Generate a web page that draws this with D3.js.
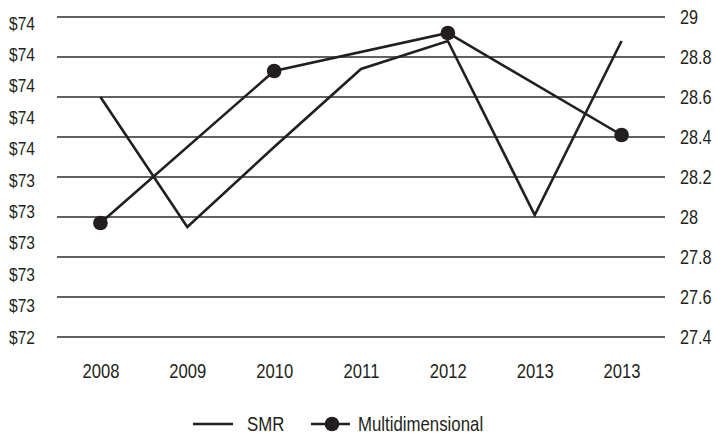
<!DOCTYPE html>
<html>
<head>
<meta charset="utf-8">
<script src="https://cdn.jsdelivr.net/npm/d3@7"></script>
<style>
  html, body { margin: 0; padding: 0; background: #fff; }
  svg text { font-family: "Liberation Sans", Arial, sans-serif; fill: #231f20; }
</style>
</head>
<body>
<svg id="chart" width="715" height="436"></svg>
<script>
// Categories along the bottom (the last year appears twice in the source labels)
const categories = ["2008", "2009", "2010", "2011", "2012", "2013", "2013 "];
const categoryLabels = ["2008", "2009", "2010", "2011", "2012", "2013", "2013"];

// Series values, plotted against the right-hand axis
const smrValues = [28.6, 27.95, 28.35, 28.74, 28.88, 28.01, 28.88];
const multiValues = [27.97, null, 28.73, null, 28.92, null, 28.41];

// Axis ticks
const rightTicks = [27.4, 27.6, 27.8, 28.0, 28.2, 28.4, 28.6, 28.8, 29.0];
const leftTicks = [72.4, 72.6, 72.8, 73.0, 73.2, 73.4, 73.6, 73.8, 74.0, 74.2, 74.4];

const ink = "#231f20";
const narrow = 0.82; // horizontal squeeze giving a condensed face
const svg = d3.select("#chart");

const plot = { left: 57, right: 665, top: 17, bottom: 337 };

const x = d3.scalePoint()
  .domain(categories)
  .range([plot.left, plot.right])
  .padding(0.5);

const yRight = d3.scaleLinear().domain([27.4, 29.0]).range([plot.bottom, plot.top]);
const yLeft = d3.scaleLinear().domain([72.4, 74.4]).range([plot.bottom, 23]);

// Squeeze axis tick labels horizontally while keeping their anchor points
function condense(sel, size) {
  sel.selectAll("text").each(function () {
    const t = d3.select(this);
    const tx = +t.attr("x") || 0;
    t.attr("x", tx / narrow)
      .attr("transform", `scale(${narrow},1)`)
      .style("font-size", size + "px")
      .attr("fill", ink);
  });
}

// Horizontal gridlines on the right-axis ticks
svg.append("g")
  .selectAll("line")
  .data(rightTicks)
  .join("line")
  .attr("x1", plot.left)
  .attr("x2", plot.right)
  .attr("y1", d => yRight(d))
  .attr("y2", d => yRight(d))
  .attr("stroke", "#2b2b2b")
  .attr("stroke-width", 1.4);

// Right axis labels
const rightAxis = d3.axisRight(yRight)
  .tickValues(rightTicks)
  .tickFormat(d3.format("~g"))
  .tickSize(0)
  .tickPadding(15);
const gR = svg.append("g").attr("transform", `translate(${plot.right},0)`).call(rightAxis);
gR.select(".domain").remove();
condense(gR, 19.8);

// Left axis labels (dollar values)
const leftAxis = d3.axisLeft(yLeft)
  .tickValues(leftTicks)
  .tickFormat(d3.format("$.0f"))
  .tickSize(0)
  .tickPadding(22);
const gL = svg.append("g").attr("transform", `translate(${plot.left},0)`).call(leftAxis);
gL.select(".domain").remove();
condense(gL, 19);

// Bottom category labels
const bottomAxis = d3.axisBottom(x)
  .tickFormat((d, i) => categoryLabels[i])
  .tickSize(0)
  .tickPadding(27);
const gB = svg.append("g").attr("transform", `translate(0,${plot.bottom})`).call(bottomAxis);
gB.select(".domain").remove();
condense(gB, 20.3);

// SMR line
const smrData = categories.map((c, i) => ({ c, v: smrValues[i] }));
svg.append("path")
  .datum(smrData)
  .attr("fill", "none")
  .attr("stroke", ink)
  .attr("stroke-width", 2.6)
  .attr("stroke-linejoin", "miter")
  .attr("d", d3.line().x(d => x(d.c)).y(d => yRight(d.v)));

// Multidimensional line with markers, drawn through its defined points
const multiData = categories.map((c, i) => ({ c, v: multiValues[i] })).filter(d => d.v !== null);
svg.append("path")
  .datum(multiData)
  .attr("fill", "none")
  .attr("stroke", ink)
  .attr("stroke-width", 2.6)
  .attr("d", d3.line().x(d => x(d.c)).y(d => yRight(d.v)));
svg.append("g")
  .selectAll("circle")
  .data(multiData)
  .join("circle")
  .attr("cx", d => x(d.c))
  .attr("cy", d => yRight(d.v))
  .attr("r", 7.3)
  .attr("fill", ink);

// Legend
const legendY = 424;
const legend = svg.append("g");
legend.append("line")
  .attr("x1", 193).attr("x2", 233)
  .attr("y1", legendY).attr("y2", legendY)
  .attr("stroke", ink).attr("stroke-width", 2.6);
legend.append("text")
  .attr("x", 247 / narrow).attr("y", legendY).attr("dy", "0.35em")
  .attr("transform", `scale(${narrow},1)`)
  .style("font-size", "20.5px").text("SMR");
legend.append("line")
  .attr("x1", 311).attr("x2", 350)
  .attr("y1", legendY).attr("y2", legendY)
  .attr("stroke", ink).attr("stroke-width", 2.6);
legend.append("circle")
  .attr("cx", 332).attr("cy", legendY).attr("r", 7.3).attr("fill", ink);
legend.append("text")
  .attr("x", 358 / narrow).attr("y", legendY).attr("dy", "0.35em")
  .attr("transform", `scale(${narrow},1)`)
  .style("font-size", "20.5px").text("Multidimensional");
</script>
</body>
</html>
